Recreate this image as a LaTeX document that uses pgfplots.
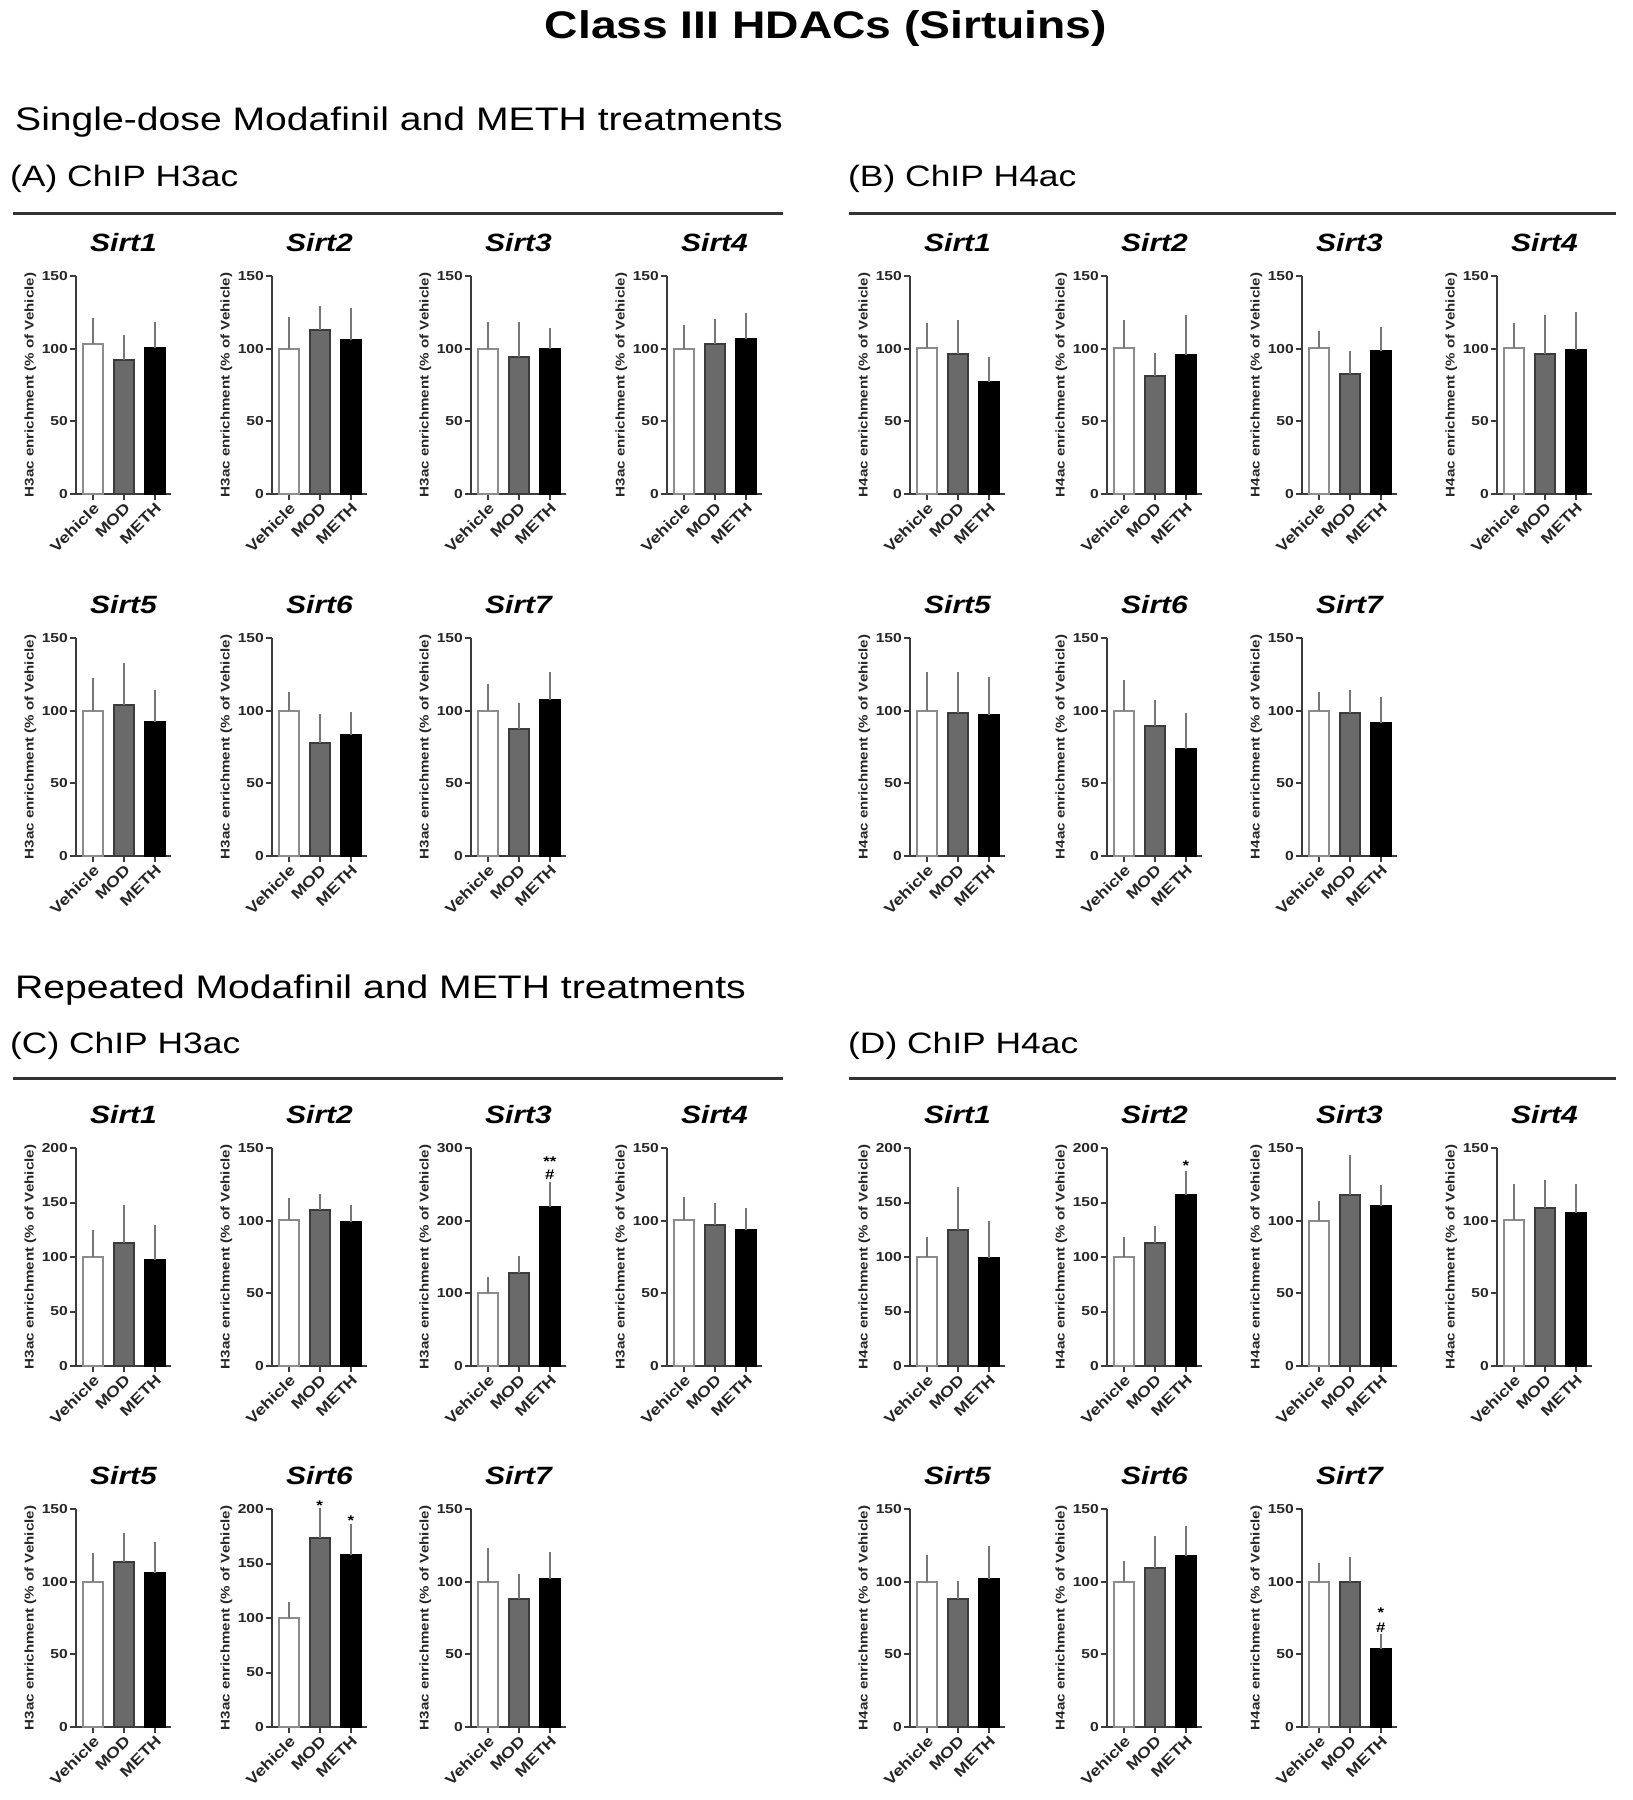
\documentclass[border=0pt]{standalone}
\usepackage{fontspec}
\setmainfont{Liberation Sans}[FakeStretch=1.2]
\usepackage{pgfplots}
\pgfplotsset{compat=1.18}
\definecolor{axc}{HTML}{3C3C3C}
\definecolor{modc}{HTML}{6A6A6A}
\definecolor{edgec}{HTML}{8C8C8C}
\definecolor{errc}{HTML}{777777}
\pgfplotsset{
 prism/.style={
   anchor=south west,
   scale only axis, width=95pt, height=218pt,
   xmin=-0.53, xmax=2.52, ymin=0,
   axis x line=bottom, axis y line=left,
   axis line style={-, draw=axc, line width=2.4pt},
   xtick={0,1,2}, xticklabels={Vehicle,MOD,METH},
   tick align=outside, major tick length=6pt,
   tick style={axc, line width=2pt},
   ticklabel style={font=\bfseries\fontsize{13}{15}\selectfont, text=black!85},
   /pgf/number format/assume math mode=true,
   xticklabel style={rotate=45, anchor=north east, inner sep=1pt, font=\bfseries\fontsize{15}{17}\selectfont},
   yticklabel style={inner sep=2pt},
   ylabel style={font=\bfseries\fontsize{12.6}{14}\selectfont, text=black!85, at={(axis description cs:-0.48,0.5)}, anchor=center},
   title style={font=\bfseries\itshape\fontsize{25}{28}\selectfont, at={(axis description cs:0.5,1)}, anchor=base, yshift=19pt},
   clip=false,
   ybar, bar width=20pt,
   error bars/y dir=plus, error bars/y explicit,
   error bars/error bar style={errc, line width=2pt},
   error bars/error mark options={errc, line width=2pt, mark size=5pt},
 },
 veh/.style={draw=edgec, fill=white, line width=2pt, bar shift=0pt},
 mod/.style={draw=axc, fill=modc, line width=2pt, bar shift=0pt},
 met/.style={draw=black, fill=black, line width=2pt, bar shift=0pt},
 y150/.style={ymax=150, ytick={0,50,100,150}},
 y200/.style={ymax=200, ytick={0,50,100,150,200}},
 y300/.style={ymax=300, ytick={0,100,200,300}},
 h3/.style={ylabel={H3ac enrichment (\% of Vehicle)}},
 h4/.style={ylabel={H4ac enrichment (\% of Vehicle)}},
}
\newcommand\sig[1]{\bfseries\fontsize{14}{16}\selectfont #1}
\begin{document}
\begin{tikzpicture}
\useasboundingbox[fill=white] (0pt,0pt) rectangle (1633pt,-1800pt);
% headings
\node[anchor=base, inner sep=0pt, font=\bfseries\fontsize{38.5}{42}\selectfont] at (826pt,-38pt) {Class III HDACs (Sirtuins)};
\node[anchor=base west, inner sep=0pt, font=\fontsize{32.6}{36}\selectfont] at (15pt,-130pt) {Single-dose Modafinil and METH treatments};
\node[anchor=base west, inner sep=0pt, font=\fontsize{29.5}{32}\selectfont] at (10pt,-186pt) {(A) ChIP H3ac};
\node[anchor=base west, inner sep=0pt, font=\fontsize{29.5}{32}\selectfont] at (848pt,-186pt) {(B) ChIP H4ac};
\draw[line width=3pt, black!80] (13pt,-213pt) -- (783pt,-213pt);
\draw[line width=3pt, black!80] (849pt,-213pt) -- (1616pt,-213pt);
\node[anchor=base west, inner sep=0pt, font=\fontsize{32.6}{36}\selectfont] at (15pt,-998pt) {Repeated Modafinil and METH treatments};
\node[anchor=base west, inner sep=0pt, font=\fontsize{29.5}{32}\selectfont] at (10pt,-1053pt) {(C) ChIP H3ac};
\node[anchor=base west, inner sep=0pt, font=\fontsize{29.5}{32}\selectfont] at (848pt,-1053pt) {(D) ChIP H4ac};
\draw[line width=3pt, black!80] (13pt,-1078pt) -- (783pt,-1078pt);
\draw[line width=3pt, black!80] (849pt,-1078pt) -- (1616pt,-1078pt);

% ===== (A) row 1 =====
\begin{axis}[prism, y150, h3, title={Sirt1}, at={(76pt,-494pt)}]
\addplot[veh] coordinates {(0,103.5) +- (0,14)};
\addplot[mod] coordinates {(1,92) +- (0,14)};
\addplot[met] coordinates {(2,100.7) +- (0,14.3)};
\end{axis}
\begin{axis}[prism, y150, h3, title={Sirt2}, at={(272pt,-494pt)}]
\addplot[veh] coordinates {(0,100) +- (0,18.6)};
\addplot[mod] coordinates {(1,113) +- (0,13)};
\addplot[met] coordinates {(2,105.7) +- (0,19)};
\end{axis}
\begin{axis}[prism, y150, h3, title={Sirt3}, at={(471pt,-494pt)}]
\addplot[veh] coordinates {(0,100) +- (0,15)};
\addplot[mod] coordinates {(1,94.3) +- (0,20.7)};
\addplot[met] coordinates {(2,100) +- (0,11)};
\end{axis}
\begin{axis}[prism, y150, h3, title={Sirt4}, at={(667pt,-494pt)}]
\addplot[veh] coordinates {(0,100) +- (0,13)};
\addplot[mod] coordinates {(1,103.4) +- (0,13.6)};
\addplot[met] coordinates {(2,107) +- (0,14)};
\end{axis}
% ===== (A) row 2 =====
\begin{axis}[prism, y150, h3, title={Sirt5}, at={(76pt,-856pt)}]
\addplot[veh] coordinates {(0,100) +- (0,19)};
\addplot[mod] coordinates {(1,103.6) +- (0,26)};
\addplot[met] coordinates {(2,92.2) +- (0,18.8)};
\end{axis}
\begin{axis}[prism, y150, h3, title={Sirt6}, at={(272pt,-856pt)}]
\addplot[veh] coordinates {(0,100) +- (0,9.6)};
\addplot[mod] coordinates {(1,77.6) +- (0,16.4)};
\addplot[met] coordinates {(2,83) +- (0,12.7)};
\end{axis}
\begin{axis}[prism, y150, h3, title={Sirt7}, at={(471pt,-856pt)}]
\addplot[veh] coordinates {(0,100) +- (0,15)};
\addplot[mod] coordinates {(1,87.7) +- (0,14)};
\addplot[met] coordinates {(2,107.3) +- (0,16)};
\end{axis}
% ===== (B) row 1 =====
\begin{axis}[prism, y150, h4, title={Sirt1}, at={(910pt,-494pt)}]
\addplot[veh] coordinates {(0,100.5) +- (0,14)};
\addplot[mod] coordinates {(1,96.3) +- (0,19.7)};
\addplot[met] coordinates {(2,77.4) +- (0,13.6)};
\end{axis}
\begin{axis}[prism, y150, h4, title={Sirt2}, at={(1107pt,-494pt)}]
\addplot[veh] coordinates {(0,100.5) +- (0,16)};
\addplot[mod] coordinates {(1,81.5) +- (0,12)};
\addplot[met] coordinates {(2,95.9) +- (0,24)};
\end{axis}
\begin{axis}[prism, y150, h4, title={Sirt3}, at={(1302pt,-494pt)}]
\addplot[veh] coordinates {(0,100.5) +- (0,8.4)};
\addplot[mod] coordinates {(1,82.6) +- (0,12.6)};
\addplot[met] coordinates {(2,98.2) +- (0,13.4)};
\end{axis}
\begin{axis}[prism, y150, h4, title={Sirt4}, at={(1497pt,-494pt)}]
\addplot[veh] coordinates {(0,100.5) +- (0,13.5)};
\addplot[mod] coordinates {(1,96.3) +- (0,23.7)};
\addplot[met] coordinates {(2,99.3) +- (0,22.7)};
\end{axis}
% ===== (B) row 2 =====
\begin{axis}[prism, y150, h4, title={Sirt5}, at={(910pt,-856pt)}]
\addplot[veh] coordinates {(0,100) +- (0,23)};
\addplot[mod] coordinates {(1,98.5) +- (0,24.5)};
\addplot[met] coordinates {(2,96.9) +- (0,23)};
\end{axis}
\begin{axis}[prism, y150, h4, title={Sirt6}, at={(1107pt,-856pt)}]
\addplot[veh] coordinates {(0,100) +- (0,18)};
\addplot[mod] coordinates {(1,89.4) +- (0,14.6)};
\addplot[met] coordinates {(2,73.4) +- (0,21.6)};
\end{axis}
\begin{axis}[prism, y150, h4, title={Sirt7}, at={(1302pt,-856pt)}]
\addplot[veh] coordinates {(0,100) +- (0,9.5)};
\addplot[mod] coordinates {(1,98.5) +- (0,12)};
\addplot[met] coordinates {(2,91.2) +- (0,14.6)};
\end{axis}
% ===== (C) row 3 =====
\begin{axis}[prism, y200, h3, title={Sirt1}, at={(76pt,-1366pt)}]
\addplot[veh] coordinates {(0,100) +- (0,20)};
\addplot[mod] coordinates {(1,113) +- (0,30)};
\addplot[met] coordinates {(2,97) +- (0,27.6)};
\end{axis}
\begin{axis}[prism, y150, h3, title={Sirt2}, at={(272pt,-1366pt)}]
\addplot[veh] coordinates {(0,100.7) +- (0,11.3)};
\addplot[mod] coordinates {(1,107.5) +- (0,7.3)};
\addplot[met] coordinates {(2,99.3) +- (0,8)};
\end{axis}
\begin{axis}[prism, y300, h3, title={Sirt3}, at={(471pt,-1366pt)}]
\addplot[veh] coordinates {(0,101) +- (0,14)};
\addplot[mod] coordinates {(1,127.7) +- (0,17.3)};
\addplot[met] coordinates {(2,219.5) +- (0,27.3)};
\node[font=\sig{}] at (axis cs:2,263) {\#};
\node[font=\sig{}] at (axis cs:2,281) {**};
\end{axis}
\begin{axis}[prism, y150, h3, title={Sirt4}, at={(667pt,-1366pt)}]
\addplot[veh] coordinates {(0,100.7) +- (0,12.3)};
\addplot[mod] coordinates {(1,97) +- (0,12)};
\addplot[met] coordinates {(2,93.9) +- (0,11.1)};
\end{axis}
% ===== (C) row 4 =====
\begin{axis}[prism, y150, h3, title={Sirt5}, at={(76pt,-1727pt)}]
\addplot[veh] coordinates {(0,100) +- (0,16.5)};
\addplot[mod] coordinates {(1,113.5) +- (0,16.5)};
\addplot[met] coordinates {(2,106) +- (0,18)};
\end{axis}
\begin{axis}[prism, y200, h3, title={Sirt6}, at={(272pt,-1727pt)}]
\addplot[veh] coordinates {(0,100) +- (0,10.5)};
\addplot[mod] coordinates {(1,173.5) +- (0,22.5)};
\addplot[met] coordinates {(2,157.4) +- (0,24.3)};
\node[font=\sig{}] at (axis cs:1,203) {*};
\node[font=\sig{}] at (axis cs:2,189) {*};
\end{axis}
\begin{axis}[prism, y150, h3, title={Sirt7}, at={(471pt,-1727pt)}]
\addplot[veh] coordinates {(0,100) +- (0,19.8)};
\addplot[mod] coordinates {(1,88) +- (0,14)};
\addplot[met] coordinates {(2,101.8) +- (0,15)};
\end{axis}
% ===== (D) row 3 =====
\begin{axis}[prism, y200, h4, title={Sirt1}, at={(910pt,-1366pt)}]
\addplot[veh] coordinates {(0,100) +- (0,14)};
\addplot[mod] coordinates {(1,125) +- (0,35)};
\addplot[met] coordinates {(2,99.4) +- (0,29.4)};
\end{axis}
\begin{axis}[prism, y200, h4, title={Sirt2}, at={(1107pt,-1366pt)}]
\addplot[veh] coordinates {(0,100) +- (0,14)};
\addplot[mod] coordinates {(1,113) +- (0,11)};
\addplot[met] coordinates {(2,156.7) +- (0,17.5)};
\node[font=\sig{}] at (axis cs:2,184) {*};
\end{axis}
\begin{axis}[prism, y150, h4, title={Sirt3}, at={(1302pt,-1366pt)}]
\addplot[veh] coordinates {(0,100) +- (0,9.8)};
\addplot[mod] coordinates {(1,118) +- (0,24)};
\addplot[met] coordinates {(2,109.8) +- (0,11.2)};
\end{axis}
\begin{axis}[prism, y150, h4, title={Sirt4}, at={(1497pt,-1366pt)}]
\addplot[veh] coordinates {(0,100.7) +- (0,21.3)};
\addplot[mod] coordinates {(1,109) +- (0,15.3)};
\addplot[met] coordinates {(2,105.2) +- (0,16.4)};
\end{axis}
% ===== (D) row 4 =====
\begin{axis}[prism, y150, h4, title={Sirt5}, at={(910pt,-1727pt)}]
\addplot[veh] coordinates {(0,100) +- (0,15.2)};
\addplot[mod] coordinates {(1,88) +- (0,9)};
\addplot[met] coordinates {(2,101.8) +- (0,19.6)};
\end{axis}
\begin{axis}[prism, y150, h4, title={Sirt6}, at={(1107pt,-1727pt)}]
\addplot[veh] coordinates {(0,100) +- (0,10.7)};
\addplot[mod] coordinates {(1,109.3) +- (0,18.7)};
\addplot[met] coordinates {(2,117.5) +- (0,17.5)};
\end{axis}
\begin{axis}[prism, y150, h4, title={Sirt7}, at={(1302pt,-1727pt)}]
\addplot[veh] coordinates {(0,100) +- (0,9.2)};
\addplot[mod] coordinates {(1,100) +- (0,13.7)};
\addplot[met] coordinates {(2,54) +- (0,6.5)};
\node[font=\sig{}] at (axis cs:2,68) {\#};
\node[font=\sig{}] at (axis cs:2,79) {*};
\end{axis}
\end{tikzpicture}
\end{document}
